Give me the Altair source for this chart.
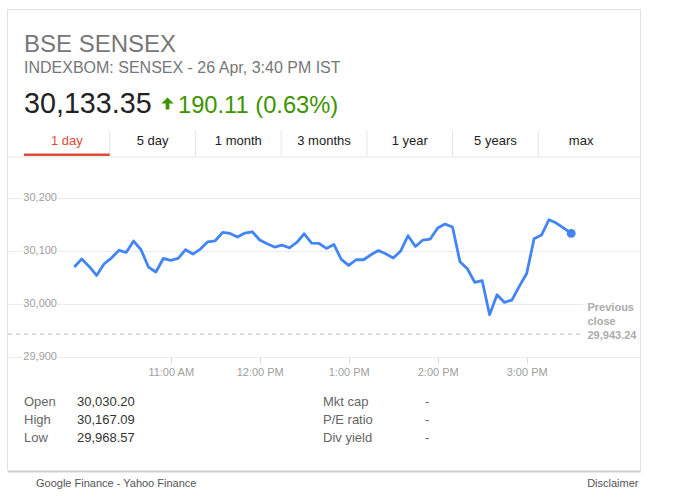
import altair as alt
import pandas as pd

# Intraday SENSEX quotes, one every five minutes from 9:55 to 15:30 IST
sensex = [30069.8, 30084.9, 30071.0, 30054.0, 30075.5, 30086.8, 30101.1, 30097.4,
          30118.9, 30102.5, 30069.8, 30060.4, 30086.0, 30082.3, 30086.0, 30102.5,
          30094.3, 30103.8, 30117.5, 30119.4, 30135.1, 30133.2, 30126.4, 30134.0,
          30136.4, 30120.8, 30113.8, 30107.5, 30111.3, 30106.2, 30116.2, 30132.6,
          30115.1, 30114.3, 30104.9, 30112.5, 30084.2, 30072.8, 30083.6, 30083.6,
          30093.0, 30101.1, 30094.9, 30086.8, 30100.0, 30128.9, 30108.7, 30120.8,
          30122.6, 30143.4, 30150.9, 30145.3, 30079.8, 30066.6, 30040.8, 30044.0,
          29979.8, 30017.5, 30003.0, 30007.5, 30033.2, 30057.7, 30123.2, 30130.2,
          30159.1, 30152.8, 30143.4, 30133.35]
first_minute = 9 * 60 + 55
step_minutes = 5

previous_close = 29943.24
last_price = 30133.35
change = 190.11
change_pct = 0.63

grid_values = [29900, 30000, 30100, 30200]
hour_ticks = [660, 720, 780, 840, 900]
hour_labels = ["11:00 AM", "12:00 PM", "1:00 PM", "2:00 PM", "3:00 PM"]

tabs = ["1 day", "5 day", "1 month", "3 months", "1 year", "5 years", "max"]
stat_names = ["Open", "High", "Low"]
stat_values = [30030.20, 30167.09, 29968.57]
ratio_names = ["Mkt cap", "P/E ratio", "Div yield"]
ratio_values = ["-", "-", "-"]

FONT = "Liberation Sans"
BLUE = "#4285f4"
GREEN = "#3d9400"
RED = "#dd4b39"

# plot area inside the 684x500 canvas
LEFT, TOP, W, H = 8, 170, 632, 187


def X(px):
    return px - LEFT


def Y(py):
    return py - TOP


x_scale = alt.Scale(domain=[550.3, 976.4], nice=False, zero=False)
y_scale = alt.Scale(domain=[29900, 30253], nice=False, zero=False)

one = pd.DataFrame({"k": [0]})


def label(s, x, y, size=13, color="#222", align="left", weight="normal"):
    return alt.Chart(one).mark_text(
        text=s, font=FONT, fontSize=size, color=color, align=align,
        baseline="alphabetic", fontWeight=weight,
    ).encode(x=alt.value(X(x)), y=alt.value(Y(y)))


def hline(x0, x1, y, color, width=1, dash=None):
    kw = dict(color=color, strokeWidth=width)
    if dash:
        kw["strokeDash"] = dash
    return alt.Chart(one).mark_rule(**kw).encode(
        x=alt.value(X(x0)), x2=alt.value(X(x1)), y=alt.value(Y(y)))


def vline(x, y0, y1, color, width=1):
    return alt.Chart(one).mark_rule(color=color, strokeWidth=width).encode(
        x=alt.value(X(x)), y=alt.value(Y(y0)), y2=alt.value(Y(y1)))


def box(x0, x1, y0, y1, **kw):
    return alt.Chart(one).mark_rect(**kw).encode(
        x=alt.value(X(x0)), x2=alt.value(X(x1)),
        y=alt.value(Y(y0)), y2=alt.value(Y(y1)))


series = pd.DataFrame({
    "minute": [first_minute + step_minutes * i for i in range(len(sensex))],
    "price": sensex,
})
grid_df = pd.DataFrame({"v": grid_values})

tick_expr = "[" + ",".join(f"'{t}'" for t in hour_labels) + "][indexof([" + \
    ",".join(str(t) for t in hour_ticks) + "], datum.value)]"

layers = []

# card outline with a soft shadow along its bottom edge
layers.append(hline(8, 641, 471.5, "#cfcfcf"))
layers.append(hline(8, 641, 472.5, "#e9e9e9"))
layers.append(box(7.5, 640.5, 9.5, 470.5, filled=False, stroke="#e2e2e2", strokeWidth=1))

# header
layers.append(label("BSE SENSEX", 24, 52, size=24, color="#777"))
layers.append(label("INDEXBOM: SENSEX - 26 Apr, 3:40 PM IST", 24, 73, size=16, color="#777"))
layers.append(label(f"{last_price:,.2f}", 24, 113, size=28.7, color="#222"))
layers.append(
    alt.Chart(one).mark_point(
        shape="M0,-1L1,0L0.3,0L0.3,1L-0.3,1L-0.3,0L-1,0Z",
        filled=True, size=150, color=GREEN, opacity=1,
    ).encode(x=alt.value(X(167.5)), y=alt.value(Y(103.5)))
)
layers.append(label(f"{change:.2f} ({change_pct:.2f}%)", 178, 113, size=23.7, color=GREEN))

# range tabs
tab_w = (624 - 24) / len(tabs)
for i, t in enumerate(tabs):
    layers.append(label(t, 24 + tab_w * (i + 0.5), 145, size=13,
                        color=RED if i == 0 else "#222", align="center"))
    if i > 0:
        layers.append(vline(24 + tab_w * i, 130, 156, "#e6e6e6"))
layers.append(hline(8, 640, 157, "#e6e6e6"))
layers.append(box(24, 24 + tab_w, 153.5, 156, color=RED))

# main chart: axes, gridlines and the price line
base = alt.Chart(series)
line = base.mark_line(color=BLUE, strokeWidth=2.8, strokeJoin="round").encode(
    x=alt.X("minute:Q", scale=x_scale, title=None,
            axis=alt.Axis(values=hour_ticks, labelExpr=tick_expr, grid=False,
                          domain=False, ticks=True, tickSize=6, tickColor="#dcdcdc",
                          labelColor="#9e9e9e", labelFont=FONT, labelFontSize=11,
                          labelPadding=3)),
    y=alt.Y("price:Q", scale=y_scale, title=None,
            axis=alt.Axis(values=grid_values, grid=True, gridColor="#ebebeb",
                          labels=False, ticks=False, domain=False)),
)
dot = base.transform_window(
    rank="row_number()", sort=[alt.SortField("minute", order="descending")]
).transform_filter("datum.rank == 1").mark_circle(size=80, color=BLUE, opacity=1).encode(
    x=alt.X("minute:Q", scale=x_scale),
    y=alt.Y("price:Q", scale=y_scale),
)

# y labels sit inside the plot, with the gridline broken behind them
label_backing = alt.Chart(grid_df).mark_rule(color="white", strokeWidth=12).encode(
    y=alt.Y("v:Q", scale=y_scale), x=alt.value(X(22)), x2=alt.value(X(58)))
y_labels = alt.Chart(grid_df).mark_text(
    font=FONT, fontSize=11, color="#9e9e9e", align="right", baseline="middle"
).encode(y=alt.Y("v:Q", scale=y_scale), x=alt.value(X(57)),
         text=alt.Text("v:Q", format=","))

prev_rule = alt.Chart(one).mark_rule(color="#bdbdbd", strokeWidth=1, strokeDash=[4, 4]).encode(
    y=alt.YDatum(previous_close, scale=y_scale),
    x=alt.value(X(8)), x2=alt.value(X(580)))

layers += [label_backing, y_labels, prev_rule]
layers.append(box(583, 640, 298, 342, color="white"))
layers.append(label("Previous", 587.5, 311, size=11, color="#ababab", weight="bold"))
layers.append(label("close", 587.5, 325, size=11, color="#ababab", weight="bold"))
layers.append(label(f"{previous_close:,.2f}", 587.5, 339, size=11, color="#ababab", weight="bold"))
layers += [line, dot]

# key figures below the chart
for i, (n, v) in enumerate(zip(stat_names, stat_values)):
    yb = 405.5 + 18 * i
    layers.append(label(n, 24, yb, size=13, color="#666"))
    layers.append(label(f"{v:,.2f}", 77, yb, size=13, color="#333"))
for i, (n, v) in enumerate(zip(ratio_names, ratio_values)):
    yb = 405.5 + 18 * i
    layers.append(label(n, 323, yb, size=13, color="#666"))
    layers.append(label(v, 425, yb, size=13, color="#666"))

# footer
layers.append(label("Google Finance - Yahoo Finance", 36, 487, size=11, color="#555"))
layers.append(label("Disclaimer", 638.5, 487, size=11, color="#555", align="right"))

chart = alt.layer(*layers).properties(
    width=W, height=H,
    padding={"left": LEFT, "top": TOP, "right": 684 - LEFT - W, "bottom": 500 - TOP - H},
    autosize=alt.AutoSizeParams(type="none"),
    background="white",
).configure_view(stroke=None)

chart.save("out.html", embed_options={"renderer": "svg", "actions": False})
